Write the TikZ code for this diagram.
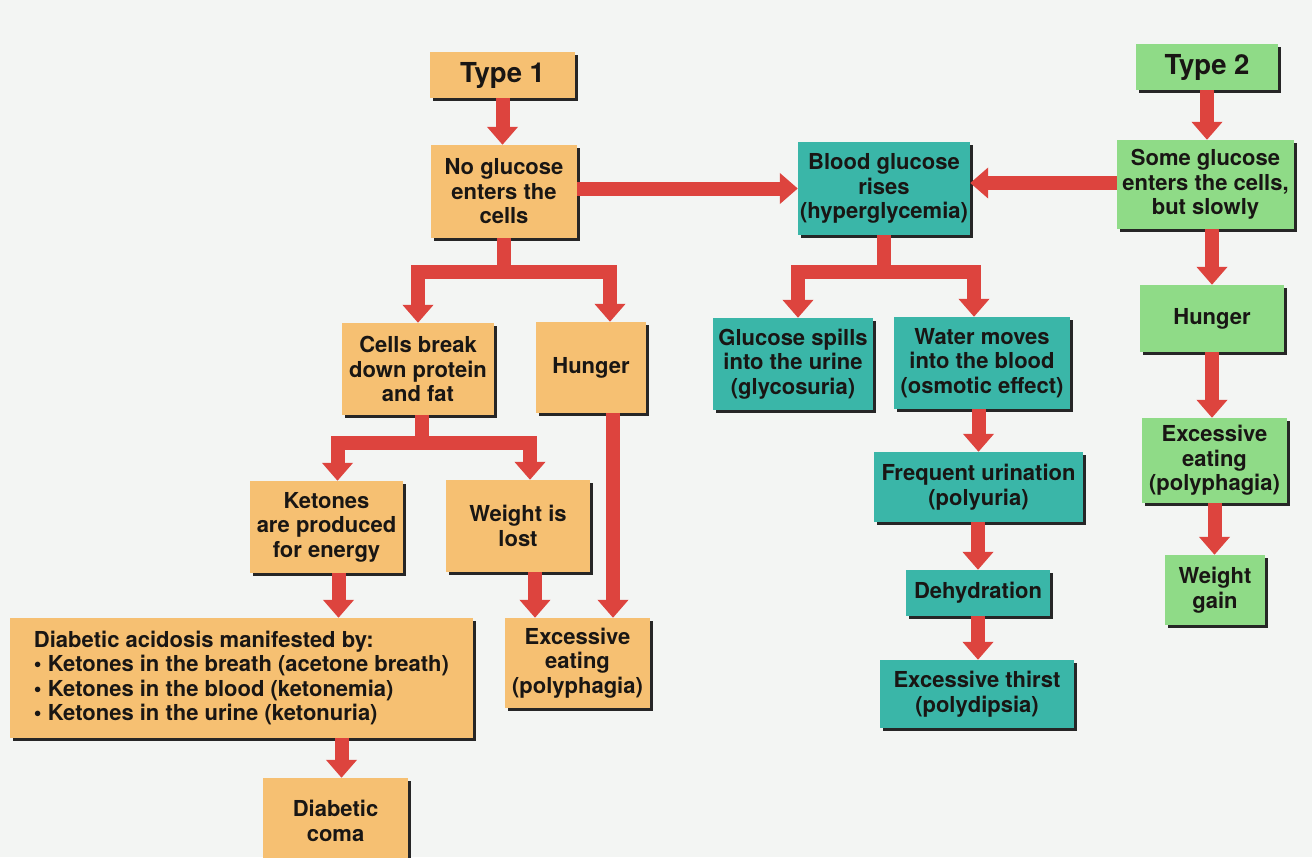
\documentclass[tikz,border=0pt]{standalone}
\usepackage{fontspec}
\setmainfont{TeX Gyre Heros}
\usetikzlibrary{arrows.meta,shadows}
\definecolor{bg}{RGB}{243,245,243}
\definecolor{orbox}{RGB}{246,192,114}
\definecolor{tlbox}{RGB}{58,182,168}
\definecolor{grbox}{RGB}{143,219,135}
\definecolor{arrred}{RGB}{221,68,62}
\definecolor{txt}{RGB}{25,22,20}
\tikzset{
  box/.style={inner sep=0pt, align=center, text=txt,
    font=\fontsize{22}{24.5}\selectfont\bfseries,
    drop shadow={shadow xshift=2.5pt,shadow yshift=-2.5pt,fill=black!85,opacity=1}},
  big/.style={font=\fontsize{27.5}{29}\selectfont\bfseries},
  obox/.style={box, fill=orbox},
  tbox/.style={box, fill=tlbox},
  gbox/.style={box, fill=grbox},
  sz/.style 2 args={minimum width=#1pt, minimum height=#2pt},
  arr/.style={draw=arrred, line width=14pt, line join=miter,
    -{Triangle[width=30pt,length=18pt]}},
}
\begin{document}
\begin{tikzpicture}[x=1pt,y=-1pt]
\fill[bg] (0,0) rectangle (1312,857);
\useasboundingbox (0,0) rectangle (1312,857);

% Type 1 column
\node[obox,big,sz={145}{46}] (type1) at (502.5,75) {Type 1};
\node[obox,sz={146}{93}] (noglu) at (504,191.5) {No glucose\\enters the\\cells};
\node[obox,sz={152}{92}] (cells) at (418,369) {Cells break\\down protein\\and fat};
\node[obox,sz={110}{91}] (hungO) at (591,367.5) {Hunger};
\node[obox,sz={153}{92}] (keto) at (326.5,527) {Ketones\\are produced\\for energy};
\node[obox,sz={144}{92}] (wlost) at (518,526) {Weight is\\lost};
\node[obox,sz={463}{120},align=left] (acid) at (241.5,678) {Diabetic acidosis manifested by:\\
\textbullet\ Ketones in the breath (acetone breath)\\
\textbullet\ Ketones in the blood (ketonemia)\\
\textbullet\ Ketones in the urine (ketonuria)};
\node[obox,sz={145}{90}] (exO) at (577.5,663) {Excessive\\eating\\(polyphagia)};
\node[obox,sz={145}{86}] (coma) at (335.5,821) {Diabetic\\coma};

% Middle column
\node[tbox,sz={172}{93}] (blood) at (884,188.5) {Blood glucose\\rises\\(hyperglycemia)};
\node[tbox,sz={160}{92}] (spill) at (793,364) {Glucose spills\\into the urine\\(glycosuria)};
\node[tbox,sz={176}{92}] (water) at (982,363) {Water moves\\into the blood\\(osmotic effect)};
\node[tbox,sz={209}{70}] (freq) at (978.5,487) {Frequent urination\\(polyuria)};
\node[tbox,sz={144}{46}] (dehyd) at (978,593) {Dehydration};
\node[tbox,sz={194}{68}] (thirst) at (977,694) {Excessive thirst\\(polydipsia)};

% Type 2 column
\node[gbox,big,sz={142}{46}] (type2) at (1207,67) {Type 2};
\node[gbox,sz={177}{89}] (some) at (1205.5,184.5) {Some glucose\\enters the cells,\\but slowly};
\node[gbox,sz={144}{67}] (hungG) at (1212,318.5) {Hunger};
\node[gbox,sz={145}{85}] (exG) at (1214.5,460.5) {Excessive\\eating\\(polyphagia)};
\node[gbox,sz={100}{70}] (wgain) at (1215,590) {Weight\\gain};

% Arrows: Type 1
\draw[arr] (type1.south) -- (type1.south |- noglu.north);
\draw[arr] ([yshift=3pt]noglu.east) -- ([yshift=3pt]noglu.east -| blood.west);
\draw[arr] (noglu.south) -- ++(0,34) -| (cells.north);
\draw[arr] (noglu.south) -- ++(0,34) -| ([xshift=19pt]hungO.north);
\draw[arr] ([xshift=4pt]cells.south) -- ++(0,28) -| ([xshift=11pt]keto.north);
\draw[arr] ([xshift=4pt]cells.south) -- ++(0,28) -| ([xshift=12pt]wlost.north);
\draw[arr] ([xshift=22pt]hungO.south) -- ([xshift=22pt]hungO.south |- exO.north);
\draw[arr] ([xshift=17pt]wlost.south) -- ([xshift=17pt]wlost.south |- exO.north);
\draw[arr] ([xshift=12pt]keto.south) -- ([xshift=12pt]keto.south |- acid.north);
\draw[arr] ([xshift=6pt]coma.north |- acid.south) -- ([xshift=6pt]coma.north);

% Arrows: middle
\draw[arr] (blood.south) -- ++(0,37) -| ([xshift=5pt]spill.north);
\draw[arr] (blood.south) -- ++(0,37) -| ([xshift=-8pt]water.north);
\draw[arr] (freq.north |- water.south) -- (freq.north);
\draw[arr] (dehyd.north |- freq.south) -- (dehyd.north);
\draw[arr] (dehyd.south) -- (dehyd.south |- thirst.north);

% Arrows: Type 2
\draw[arr] (type2.south) -- (type2.south |- some.north);
\draw[arr] ([yshift=1.5pt]some.west) -- ([yshift=1.5pt]some.west -| blood.east);
\draw[arr] (hungG.north |- some.south) -- (hungG.north);
\draw[arr] (hungG.south) -- (hungG.south |- exG.north);
\draw[arr] (exG.south) -- (exG.south |- wgain.north);
\end{tikzpicture}
\end{document}
